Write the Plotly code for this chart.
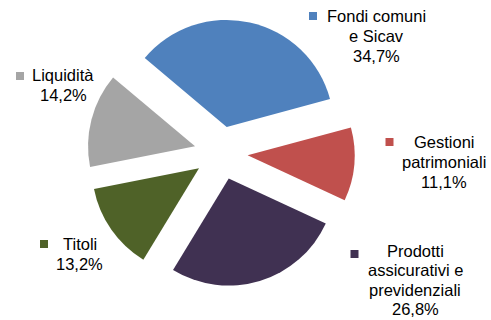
import plotly.graph_objects as go

categories = ["Fondi comuni e Sicav", "Gestioni patrimoniali",
              "Prodotti assicurativi e previdenziali", "Titoli", "Liquidità"]
values = [34.7, 11.1, 26.8, 13.2, 14.2]
colors = ["#4F81BD", "#C0504D", "#403152", "#4F6228", "#A5A5A5"]
label_lines = [
    ["Fondi comuni", "e Sicav", "34,7%"],
    ["Gestioni", "patrimoniali", "11,1%"],
    ["Prodotti", "assicurativi e", "previdenziali", "26,8%"],
    ["Titoli", "13,2%"],
    ["Liquidità", "14,2%"],
]

W, H = 491, 320
# label layout (pixel positions: text block centre x, first line y, line step, key square centre)
label_pos = [
    (376, 16, 20, (313, 16)),
    (444, 142, 20, (389.5, 142)),
    (415, 251, 19.3, (354.5, 254)),
    (79.5, 244, 20, (44, 244)),
    (63, 75, 20, (20, 76)),
]

fig = go.Figure(go.Pie(
    labels=categories,
    values=values,
    sort=False,
    direction="clockwise",
    rotation=-50,
    pull=[0.25] * len(values),
    marker=dict(colors=colors, line=dict(width=0)),
    textinfo="none",
    hoverinfo="label+percent",
    domain=dict(x=[0.165, 0.735], y=[0.1039, 0.9398]),
    showlegend=False,
))

annotations = []
shapes = []
for lines, (cx, y0, step, (sx, sy)), col in zip(label_lines, label_pos, colors):
    for i, t in enumerate(lines):
        annotations.append(dict(
            text=t, x=cx / W, y=1 - (y0 + i * step) / H, xref="paper", yref="paper",
            xanchor="center", yanchor="middle", showarrow=False,
            font=dict(family="Liberation Sans, Arial, sans-serif", size=16.5, color="#000000"),
        ))
    shapes.append(dict(
        type="rect", xref="paper", yref="paper",
        x0=(sx - 4) / W, x1=(sx + 4) / W, y0=1 - (sy + 4) / H, y1=1 - (sy - 4) / H,
        fillcolor=col, line=dict(width=0),
    ))

fig.update_layout(
    width=W, height=H,
    margin=dict(l=0, r=0, t=0, b=0),
    paper_bgcolor="white", plot_bgcolor="white",
    annotations=annotations, shapes=shapes,
)
fig.write_html("out.html")
